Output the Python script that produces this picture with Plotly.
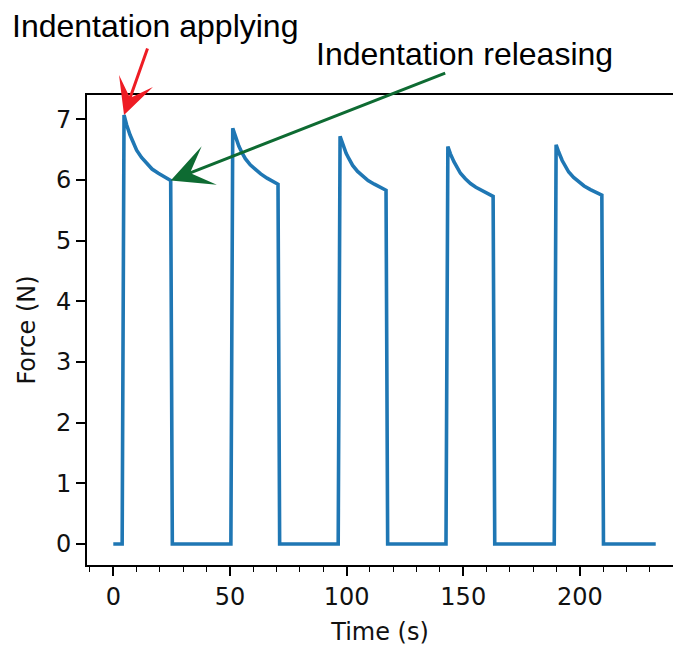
import plotly.graph_objects as go

# Time (s) and Force (N)
time_s = [0, 3.8,
          4.6, 5.1, 5.7, 7.2, 8.4, 10.0, 12.1, 14.3, 16.6, 19.3, 22.1, 24.6, 25.3,
          50.4,
          51.2, 51.7, 52.3, 53.8, 55.0, 56.6, 58.7, 60.9, 63.2, 65.9, 68.4, 70.6, 71.3,
          96.4,
          97.2, 97.7, 98.3, 99.8, 101.0, 102.6, 104.7, 106.9, 109.2, 111.9, 114.5, 116.9, 117.6,
          142.6,
          143.4, 143.9, 144.5, 146.0, 147.2, 148.8, 150.9, 153.1, 155.4, 158.1, 160.6, 162.8, 163.5,
          189.0,
          189.8, 190.3, 190.9, 192.4, 193.6, 195.2, 197.3, 199.5, 201.8, 204.5, 207.0, 209.4, 210.1,
          232.5]
force_n = [0, 0,
           7.07, 6.99, 6.91, 6.74, 6.62, 6.49, 6.37, 6.27, 6.18, 6.11, 6.04, 5.99, 0,
           0,
           6.85, 6.79, 6.71, 6.56, 6.46, 6.35, 6.25, 6.17, 6.10, 6.03, 5.98, 5.93, 0,
           0,
           6.72, 6.66, 6.59, 6.44, 6.35, 6.24, 6.14, 6.06, 5.99, 5.93, 5.87, 5.83, 0,
           0,
           6.55, 6.49, 6.43, 6.30, 6.21, 6.11, 6.02, 5.94, 5.88, 5.82, 5.77, 5.73, 0,
           0,
           6.58, 6.52, 6.46, 6.32, 6.23, 6.13, 6.04, 5.97, 5.90, 5.84, 5.79, 5.75, 0,
           0]

x_ticks = [0, 50, 100, 150, 200]
y_ticks = [0, 1, 2, 3, 4, 5, 6, 7]

apply_label = "Indentation applying"
release_label = "Indentation releasing"
apply_point = (time_s[2], force_n[2])
release_point = (time_s[13], force_n[13])

W, H = 673, 646
ML, MR, MT, MB = 87, 0, 95, 81
PW, PH = W - ML - MR, H - MT - MB

def px(x):
    return (x - ML) / PW

def py(y):
    return (H - MB - y) / PH

fig = go.Figure()
fig.add_trace(go.Scatter(x=time_s, y=force_n, mode="lines",
                         line=dict(color="#1f77b4", width=3.6),
                         showlegend=False, hoverinfo="skip"))

tick_font = dict(family="DejaVu Sans", size=24, color="#111111")

fig.update_layout(
    width=W, height=H,
    margin=dict(l=ML, r=MR, t=MT, b=MB, pad=0),
    paper_bgcolor="white", plot_bgcolor="white",
    xaxis=dict(range=[-11.27, 239.9], tickvals=x_ticks,
               ticks="outside", ticklen=9, tickwidth=1.6, tickcolor="black",
               showline=True, linecolor="black", linewidth=2, mirror=True,
               showgrid=False, zeroline=False, tickfont=tick_font,
               minor=dict(dtick=10, tick0=0, ticks="outside", ticklen=5,
                          tickwidth=1.3, tickcolor="black", showgrid=False),
               title=dict(text="Time (s)", font=tick_font, standoff=13)),
    yaxis=dict(range=[-0.346, 7.40], tickvals=y_ticks,
               ticks="outside", ticklen=9, tickwidth=1.6, tickcolor="black",
               showline=True, linecolor="black", linewidth=2,
               showgrid=False, zeroline=False, tickfont=tick_font,
               title=dict(text="Force (N)", font=tick_font, standoff=14)),
)

ann_font = dict(family="Liberation Sans", size=32, color="black")
fig.add_annotation(text=apply_label, xref="paper", yref="paper",
                   x=px(10), y=py(26), xanchor="left", yanchor="middle",
                   showarrow=False, font=ann_font)
fig.add_annotation(text=release_label, xref="paper", yref="paper",
                   x=px(314), y=py(54), xanchor="left", yanchor="middle",
                   showarrow=False, font=ann_font)

fig.add_annotation(x=apply_point[0], y=apply_point[1], xref="x", yref="y",
                   text="", showarrow=True, ax=24, ay=-68,
                   arrowhead=3, arrowsize=2.0, arrowwidth=3, arrowcolor="#ee1c24",
                   standoff=0)
fig.add_annotation(x=release_point[0], y=release_point[1], xref="x", yref="y",
                   text="", showarrow=True, ax=276, ay=-108,
                   arrowhead=3, arrowsize=2.3, arrowwidth=3, arrowcolor="#0e6b32",
                   standoff=0)

fig.write_html("out.html")
